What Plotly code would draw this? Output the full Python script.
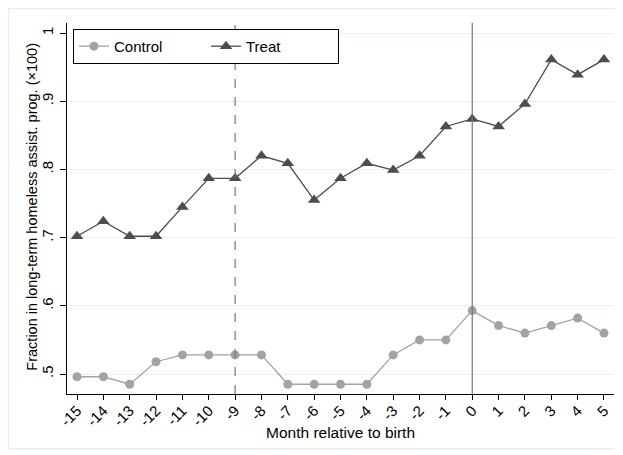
import plotly.graph_objects as go

months = list(range(-15, 6))
control = [0.496, 0.496, 0.485, 0.518, 0.528, 0.528, 0.528, 0.528, 0.485, 0.485, 0.485,
           0.485, 0.528, 0.550, 0.550, 0.593, 0.571, 0.560, 0.571, 0.582, 0.560]
treat = [0.702, 0.724, 0.702, 0.702, 0.745, 0.787, 0.787, 0.820, 0.809, 0.755, 0.787,
         0.809, 0.799, 0.820, 0.863, 0.874, 0.863, 0.896, 0.961, 0.939, 0.961]
y_ticks = [0.5, 0.6, 0.7, 0.8, 0.9, 1.0]
y_tick_labels = [".5", ".6", ".7", ".8", ".9", "1"]
x_tick_labels = [str(m) for m in months]
x_title = "Month relative to birth"
y_title = "Fraction in long-term homeless assist. prog. (×100)"

fig = go.Figure()
fig.add_trace(go.Scatter(x=months, y=control, name="Control", mode="lines+markers",
                         line=dict(color="#a3a3a3", width=1.3),
                         marker=dict(symbol="circle", size=9, color="#a3a3a3")))
fig.add_trace(go.Scatter(x=months, y=treat, name="Treat", mode="lines+markers",
                         line=dict(color="#4d4d4d", width=1.3),
                         marker=dict(symbol="triangle-up", size=11, color="#4d4d4d")))

fig.add_vline(x=-9, line=dict(color="#777777", width=1.2, dash="dash"))
fig.add_vline(x=0, line=dict(color="#777777", width=1.2))

# outer frame
fig.add_shape(type="rect", xref="paper", yref="paper",
              x0=-0.107, x1=1.0055, y0=-0.148, y1=1.039,
              line=dict(color="#e6eeef", width=1.5), layer="below")

# axis titles
fig.add_annotation(text=x_title, xref="paper", yref="paper", x=0.5, y=-0.105,
                   xanchor="center", yanchor="middle", showarrow=False,
                   font=dict(size=15.5, color="black"))
fig.add_annotation(text=y_title, xref="paper", yref="paper", x=-0.064, y=0.505,
                   xanchor="center", yanchor="middle", showarrow=False, textangle=-90,
                   font=dict(size=14.5, color="black"))

fig.update_layout(
    width=615, height=447,
    margin=dict(l=59, r=9, t=15, b=61, autoexpand=False),
    paper_bgcolor="white", plot_bgcolor="white",
    font=dict(family="Liberation Sans, Arial, sans-serif", size=15, color="black"),
    showlegend=True,
    legend=dict(orientation="h", x=0.011, y=0.984, xanchor="left", yanchor="top",
                bordercolor="black", borderwidth=1, bgcolor="white",
                font=dict(size=15), entrywidth=87, entrywidthmode="pixels"),
    xaxis=dict(range=[-15.38, 5.38], tickmode="array", tickvals=months, ticktext=x_tick_labels,
               tickangle=-45, showgrid=False, zeroline=False, showline=True, automargin=False,
               linecolor="black", linewidth=1.2, ticks="outside", ticklen=5,
               tickcolor="black", tickfont=dict(size=15), ticklabelstandoff=-4),
    yaxis=dict(range=[0.4707, 1.0147], tickmode="array", tickvals=y_ticks, ticktext=y_tick_labels,
               tickangle=-90, showgrid=True, gridcolor="#e8f0f1", gridwidth=1, zeroline=False,
               showline=True, linecolor="black", linewidth=1.2, ticks="outside", ticklen=6,
               tickcolor="black", tickfont=dict(size=15), automargin=False,
               ticklabelstandoff=1),
)

fig.write_html("out.html")
